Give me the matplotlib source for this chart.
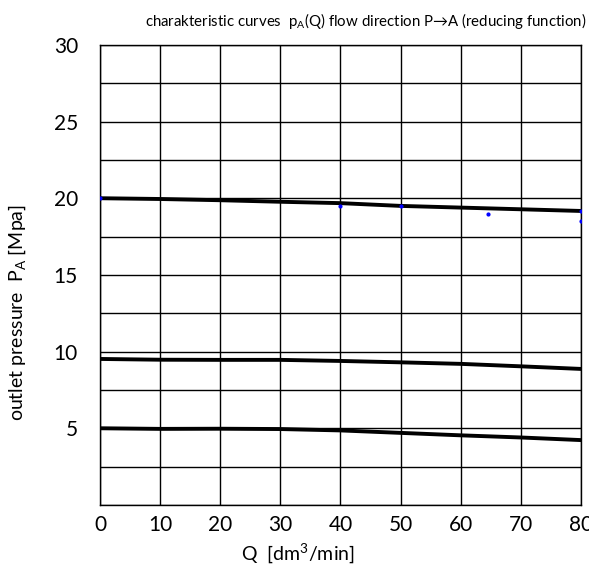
import numpy as np
import matplotlib
matplotlib.use("Agg")
import matplotlib.pyplot as plt

plt.rcParams["font.family"] = ["Lato", "DejaVu Sans"]
plt.rcParams["mathtext.fontset"] = "custom"
plt.rcParams["mathtext.rm"] = "Lato"

# curve data (Q in dm3/min, p in MPa)
q = [0, 10, 20, 30, 40, 50, 60, 70, 80]
p_high = [20.0, 19.95, 19.87, 19.77, 19.68, 19.5, 19.39, 19.28, 19.17]
p_mid = [9.52, 9.47, 9.46, 9.46, 9.39, 9.3, 9.2, 9.04, 8.87]
p_low = [5.0, 4.96, 4.97, 4.95, 4.86, 4.7, 4.54, 4.4, 4.23]

# measured points (blue dots)
q_pts = [0, 40, 50, 64.6, 80, 80]
p_pts = [20.0, 19.48, 19.5, 19.0, 19.2, 18.5]

x_ticks = [0, 10, 20, 30, 40, 50, 60, 70, 80]
y_ticks = [5, 10, 15, 20, 25, 30]

fig = plt.figure(figsize=[5.89, 5.68], dpi=100)
ax = fig.add_axes([0.170, 0.111, 0.816, 0.810])

# grid
for yv in np.arange(0, 30.1, 2.5):
    ax.axhline(yv, color="black", lw=1.0, zorder=1)
for xv in x_ticks:
    ax.axvline(xv, color="black", lw=1.0, zorder=1)

for p in (p_high, p_mid, p_low):
    ax.plot(q, p, color="black", lw=2.8, zorder=3)
ax.scatter(q_pts, p_pts, s=4, color="blue", zorder=4)

ax.set_xlim(0, 80)
ax.set_ylim(0, 30)
ax.set_xticks(x_ticks)
ax.set_yticks(y_ticks)
ax.tick_params(length=0, labelsize=15, pad=7)
ax.tick_params(axis="y", pad=16)
for s in ax.spines.values():
    s.set_linewidth(1.0)

fig.text(0.995, 0.963, r"charakteristic curves  p$_\mathregular{A}$(Q) flow direction P→A (reducing function)",
         ha="right", va="center", fontsize=10.8)
fig.text(0.03, 0.45, r"outlet pressure  P$_\mathregular{A}$ [Mpa]", rotation=90,
         ha="center", va="center", fontsize=14)
fig.text(0.506, 0.025, r"Q  [dm$^\mathregular{3}$/min]", ha="center", va="center", fontsize=14)

plt.savefig("out.png", dpi=100)
plt.close()
